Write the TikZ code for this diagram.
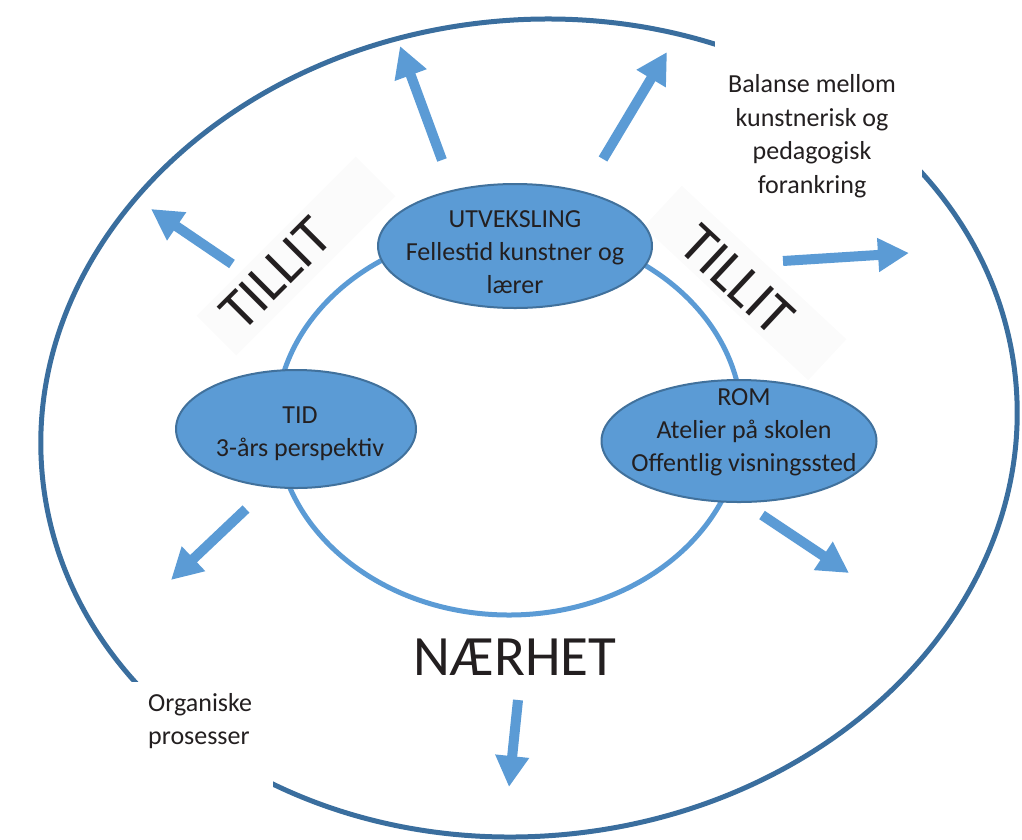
\documentclass[tikz,border=0pt]{standalone}
\usepackage{fontspec}
\setmainfont{Carlito}
\usetikzlibrary{arrows.meta,shapes.geometric}

\definecolor{lightblue}{HTML}{5B9BD5}
\definecolor{midblue}{HTML}{41719C}
\definecolor{darkblue}{HTML}{3A6E9E}
\definecolor{ink}{HTML}{231F20}

\tikzset{
  bubble/.style={ellipse, draw=midblue, line width=2pt, fill=lightblue, inner sep=0pt},
  bubtext/.style={text=ink, align=center, inner sep=0pt, font=\fontsize{26}{33}\selectfont},
  bigarrow/.style={draw=lightblue, line width=10pt, -{Triangle[length=31pt,width=32pt]}},
  trustbox/.style={fill=black!1.5, minimum width=225pt, minimum height=56pt},
  bigword/.style={text=ink, inner sep=0pt, font=\fontsize{57}{64}\selectfont},
  note/.style={text=ink, inner sep=0pt, font=\fontsize{26}{33.5}\selectfont}
}

\begin{document}
\begin{tikzpicture}[x=1pt, y=-1pt]
  \useasboundingbox (0,0) rectangle (1022,839);

  % outer ring, partly hidden by the two text boxes
  \draw[darkblue, line width=5pt] (529,428) ellipse [x radius=489, y radius=408, rotate=6];
  \fill[white] (715,28) rectangle (922,198);
  \fill[white] (131,682) rectangle (273,806);

  \node[trustbox, rotate=45] (box1) at (296,256) {};
  \node[trustbox, rotate=-43] (box2) at (745,283) {};

  % inner ring
  \draw[lightblue, line width=5pt] (509,422) ellipse [x radius=233, y radius=193];

  \coordinate (s1) at (442,160); \coordinate (e1) at (400,46);
  \coordinate (s2) at (603,159); \coordinate (e2) at (667,52);
  \coordinate (s3) at (232,264); \coordinate (e3) at (151,209);
  \coordinate (s4) at (783,261); \coordinate (e4) at (909,253);
  \coordinate (s5) at (246,509); \coordinate (e5) at (171,580);
  \coordinate (s6) at (762,515); \coordinate (e6) at (849,573);
  \coordinate (s7) at (518,700); \coordinate (e7) at (509,787);

  \draw[bigarrow] (s1) -- (e1);
  \draw[bigarrow] (s2) -- (e2);
  \draw[bigarrow] (s3) -- (e3);
  \draw[bigarrow] (s4) -- (e4);
  \draw[bigarrow] (s5) -- (e5);
  \draw[bigarrow] (s6) -- (e6);
  \draw[bigarrow] (s7) -- (e7);

  \node[bubble, minimum width=274pt, minimum height=124pt] (U) at (515,246) {};
  \node[bubble, minimum width=240pt, minimum height=118pt] (T) at (296,429) {};
  \node[bubble, minimum width=275pt, minimum height=122pt] (R) at (739,441) {};

  \node[bubtext] (Ut) at (515,252) {UTVEKSLING\\Fellestid kunstner og\\lærer};
  \node[bubtext] (Tt) at (300,434) {TID\\3-års perspektiv};
  \node[bubtext] (Rt) at (744,432) {ROM\\Atelier på skolen\\Offentlig visningssted};

  \node[bigword, rotate=45] (L1) at (276,274) {TILLIT};
  \node[bigword, rotate=-43] (L2) at (737,280) {TILLIT};
  \node[bigword] (N) at (515,657) {NÆRHET};

  \node[note, align=center] (bal) at (812,136) {Balanse mellom\\kunstnerisk og\\pedagogisk\\forankring};
  \node[note, align=left, anchor=west] (org) at (148,721) {Organiske\\prosesser};
\end{tikzpicture}
\end{document}
